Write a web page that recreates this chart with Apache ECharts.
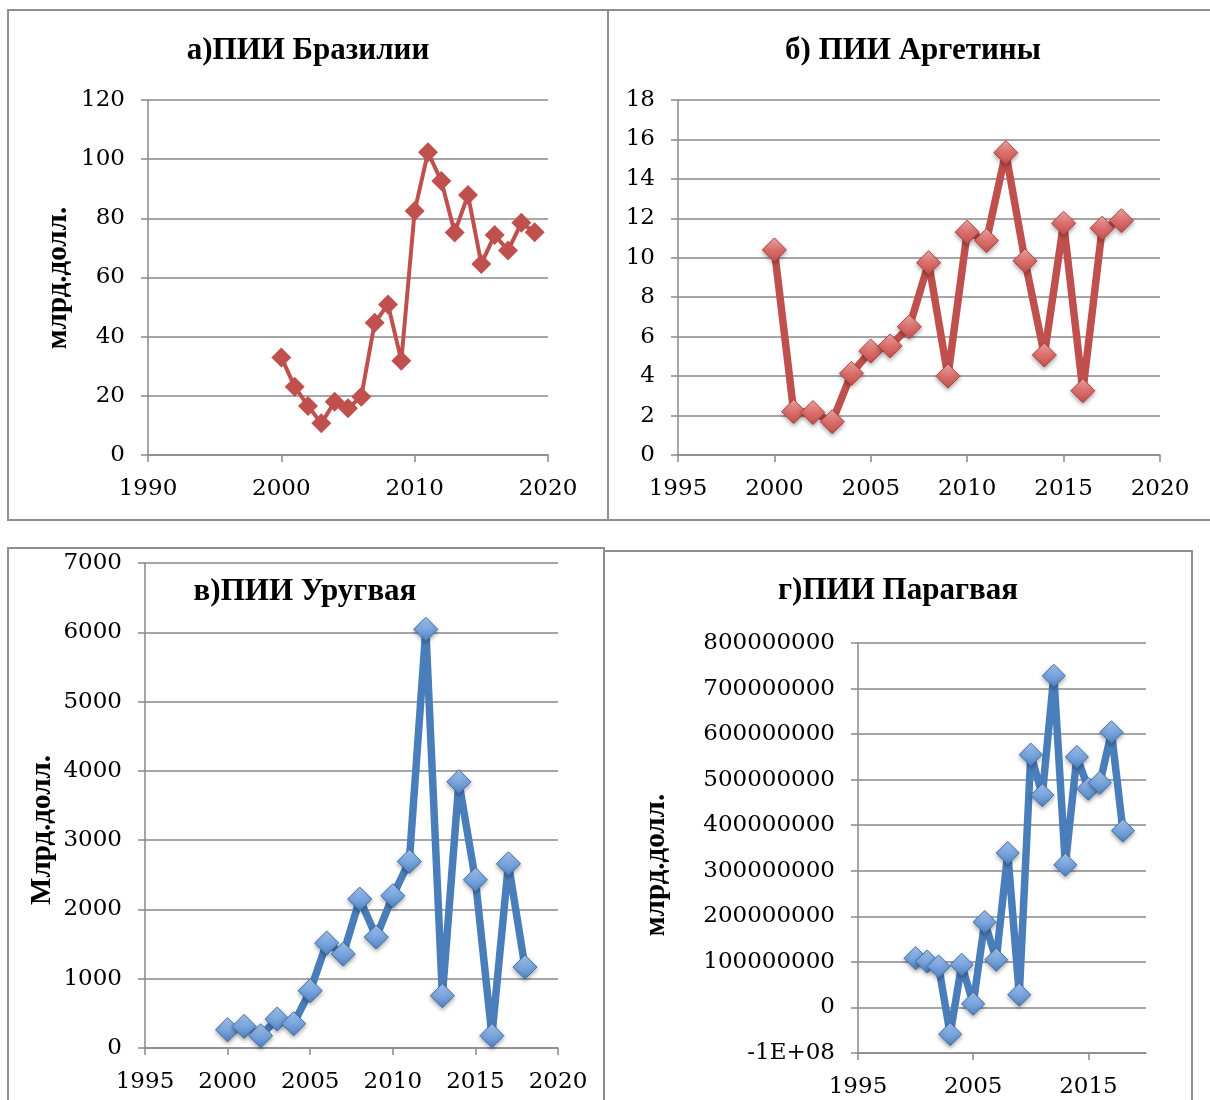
<!DOCTYPE html>
<html>
<head>
<meta charset="utf-8">
<script src="https://cdn.jsdelivr.net/npm/echarts@6/dist/echarts.min.js"></script>
<style>
  html, body { margin: 0; padding: 0; background: #ffffff; }
  #chart { width: 1210px; height: 1100px; }
</style>
</head>
<body>
<div id="chart"></div>
<script>
// ---- Data: FDI inflows by country and year ----
const brazilYears = [2000, 2001, 2002, 2003, 2004, 2005, 2006, 2007, 2008, 2009,
                     2010, 2011, 2012, 2013, 2014, 2015, 2016, 2017, 2018, 2019];
const brazilFDI   = [33.0, 23.1, 16.6, 10.7, 18.0, 15.8, 19.7, 44.7, 50.9, 31.9,
                     82.5, 102.3, 92.6, 75.2, 87.9, 64.6, 74.4, 69.1, 78.5, 75.3];

const argentinaYears = [2000, 2001, 2002, 2003, 2004, 2005, 2006, 2007, 2008, 2009,
                        2010, 2011, 2012, 2013, 2014, 2015, 2016, 2017, 2018];
const argentinaFDI   = [10.4, 2.2, 2.15, 1.69, 4.14, 5.27, 5.53, 6.5, 9.75, 4.0,
                        11.3, 10.87, 15.33, 9.84, 5.07, 11.75, 3.26, 11.5, 11.88];

const uruguayYears = [2000, 2001, 2002, 2003, 2004, 2005, 2006, 2007, 2008, 2009,
                      2010, 2011, 2012, 2013, 2014, 2015, 2016, 2017, 2018];
const uruguayFDI   = [264, 312, 178, 418, 351, 827, 1514, 1356, 2149, 1601,
                      2197, 2692, 6043, 755, 3841, 2428, 178, 2659, 1168];

const paraguayYears = [2000, 2001, 2002, 2003, 2004, 2005, 2006, 2007, 2008, 2009,
                       2010, 2011, 2012, 2013, 2014, 2015, 2016, 2017, 2018];
const paraguayFDI   = [108000000, 101000000, 90000000, -58600000, 93700000, 8000000,
                       187400000, 104700000, 339000000, 27800000, 555000000, 466000000,
                       728000000, 313000000, 550000000, 480000000, 493000000, 604000000,
                       388000000];

// ---- Panel titles and axis names ----
const panelTitles = ['а)ПИИ Бразилии', 'б) ПИИ Аргетины', 'в)ПИИ Уругвая', 'г)ПИИ Парагвая'];
const yAxisNames  = ['млрд.долл.', '', 'Млрд.долл.', 'млрд.долл.'];

// ---- Axis ranges ----
const xRanges = [
  { min: 1990, max: 2020, interval: 10 },
  { min: 1995, max: 2020, interval: 5 },
  { min: 1995, max: 2020, interval: 5 },
  { min: 1995, max: 2020, interval: 5 }
];
const paraguayXTicks = [1995, 2005, 2015];
const yRanges = [
  { min: 0, max: 120, interval: 20 },
  { min: 0, max: 18, interval: 2 },
  { min: 0, max: 7000, interval: 1000 },
  { min: -100000000, max: 800000000, interval: 100000000 }
];

// ---- Styling ----
const RED = '#C0504D';
const BLUE = '#4A7EBB';
const GRID_GRAY = '#898989';
const TICK_FONT = 'DejaVu Serif';
const TITLE_FONT = 'Liberation Serif';

function pairs(xs, ys) {
  return xs.map((x, i) => [x, ys[i]]);
}

// Excel-style "General" number format: plain digits, scientific for wide negatives
function generalFormat(v) {
  if (v < 0 && Math.abs(v) >= 1e8) {
    const e = Math.floor(Math.log10(Math.abs(v)));
    const m = v / Math.pow(10, e);
    return m + 'E+' + String(e).padStart(2, '0');
  }
  return String(v);
}

const redGradient = {
  type: 'linear', x: 0, y: 0, x2: 0, y2: 1,
  colorStops: [
    { offset: 0, color: '#F2AFAD' },
    { offset: 0.5, color: '#DC6F6C' },
    { offset: 1, color: '#C0504D' }
  ]
};
const blueGradient = {
  type: 'linear', x: 0, y: 0, x2: 0, y2: 1,
  colorStops: [
    { offset: 0, color: '#A9C8F0' },
    { offset: 0.5, color: '#7AA6E0' },
    { offset: 1, color: '#4F81BD' }
  ]
};

// Plot rectangles for the four panels
const grids = [
  { left: 148, top: 100, width: 400, height: 355 },
  { left: 678, top: 100, width: 482, height: 355 },
  { left: 145, top: 563, width: 413, height: 485 },
  { left: 858, top: 643, width: 288, height: 410 }
];

const axisLineStyle = { color: GRID_GRAY, width: 1.5 };

const xAxes = xRanges.map((r, i) => {
  const ax = {
    type: 'value', gridIndex: i,
    min: r.min, max: r.max, interval: r.interval,
    splitLine: { show: false },
    axisLine: { show: true, onZero: false, lineStyle: axisLineStyle },
    axisTick: { show: true, length: 7, lineStyle: axisLineStyle },
    axisLabel: { margin: 23, fontFamily: TICK_FONT, fontSize: 23, color: '#000', formatter: generalFormat }
  };
  if (i === 3) {
    ax.axisTick.customValues = paraguayXTicks;
    ax.axisLabel.customValues = paraguayXTicks;
  }
  return ax;
});

const yAxes = yRanges.map((r, i) => ({
  type: 'value', gridIndex: i,
  min: r.min, max: r.max, interval: r.interval,
  splitLine: { show: true, lineStyle: { color: GRID_GRAY, width: 1.5 } },
  axisLine: { show: true, lineStyle: axisLineStyle },
  axisTick: { show: true, length: 7, lineStyle: axisLineStyle },
  axisLabel: {
    margin: 23, fontFamily: TICK_FONT, fontSize: 23, color: '#000',
    formatter: generalFormat
  }
}));

const markerShadow = { shadowBlur: 4, shadowOffsetY: 2, shadowColor: 'rgba(0,0,0,0.35)' };

const series = [
  {
    type: 'line', xAxisIndex: 0, yAxisIndex: 0,
    data: pairs(brazilYears, brazilFDI),
    symbol: 'diamond', symbolSize: 20,
    lineStyle: { color: RED, width: 4 },
    itemStyle: { color: RED }
  },
  {
    type: 'line', xAxisIndex: 1, yAxisIndex: 1,
    data: pairs(argentinaYears, argentinaFDI),
    symbol: 'diamond', symbolSize: 24,
    lineStyle: { color: RED, width: 7.5 },
    itemStyle: Object.assign({ color: redGradient, borderColor: '#B5423F', borderWidth: 1 }, markerShadow)
  },
  {
    type: 'line', xAxisIndex: 2, yAxisIndex: 2,
    data: pairs(uruguayYears, uruguayFDI),
    symbol: 'diamond', symbolSize: 24,
    lineStyle: { color: BLUE, width: 7.5 },
    itemStyle: Object.assign({ color: blueGradient, borderColor: '#3F71AE', borderWidth: 1 }, markerShadow)
  },
  {
    type: 'line', xAxisIndex: 3, yAxisIndex: 3,
    data: pairs(paraguayYears, paraguayFDI),
    symbol: 'diamond', symbolSize: 23,
    lineStyle: { color: BLUE, width: 7.5 },
    itemStyle: Object.assign({ color: blueGradient, borderColor: '#3F71AE', borderWidth: 1 }, markerShadow)
  }
];

// Panel frames, titles and vertical unit captions
const frames = [
  { x: 8, y: 10, width: 600, height: 510 },
  { x: 608, y: 10, width: 620, height: 510 },
  { x: 8, y: 548, width: 596, height: 620 },
  { x: 604, y: 551, width: 588, height: 620 }
];
const titlePos = [[308, 51], [913, 51], [305, 592], [898, 591]];
const yNamePos = [[59, 278], null, [43, 830], [657, 865]];

const graphic = [];
frames.forEach(f => {
  graphic.push({
    type: 'rect', silent: true, z: -1,
    shape: { x: f.x, y: f.y, width: f.width, height: f.height },
    style: { fill: 'none', stroke: '#8E8E8E', lineWidth: 2 }
  });
});
panelTitles.forEach((t, i) => {
  graphic.push({
    type: 'text', silent: true,
    x: titlePos[i][0], y: titlePos[i][1],
    style: {
      text: t, fill: '#000',
      font: 'bold 31px "' + TITLE_FONT + '"',
      textAlign: 'center', textVerticalAlign: 'middle'
    }
  });
});
yAxisNames.forEach((t, i) => {
  if (!t) return;
  graphic.push({
    type: 'text', silent: true,
    x: yNamePos[i][0], y: yNamePos[i][1],
    rotation: Math.PI / 2,
    style: {
      text: t, fill: '#000',
      font: 'bold 29px "' + TITLE_FONT + '"',
      textAlign: 'center', textVerticalAlign: 'middle'
    }
  });
});

const chart = echarts.init(document.getElementById('chart'), null, { renderer: 'canvas' });
chart.setOption({
  animation: false,
  backgroundColor: '#ffffff',
  grid: grids,
  xAxis: xAxes,
  yAxis: yAxes,
  series: series,
  graphic: graphic
});
</script>
</body>
</html>
